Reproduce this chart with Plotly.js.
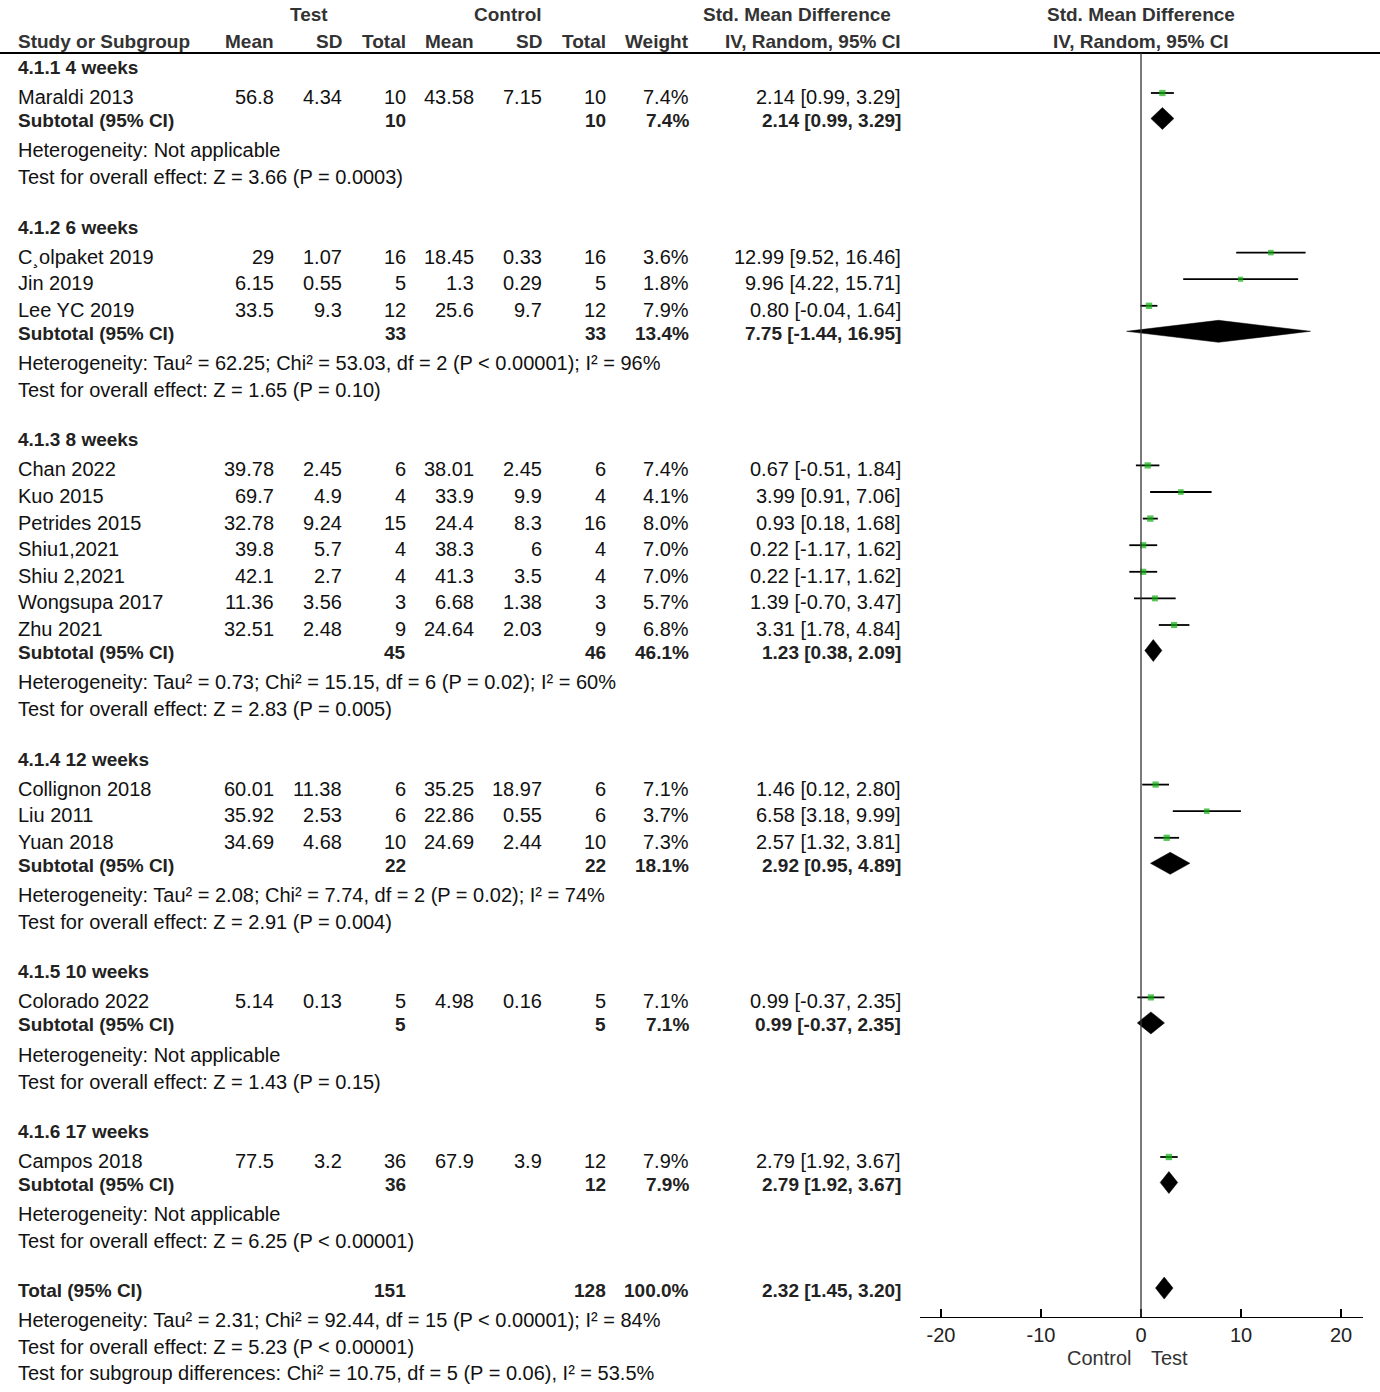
<!DOCTYPE html>
<html>
<head>
<meta charset="utf-8">
<script src="https://cdn.plot.ly/plotly-3.0.1.min.js"></script>
<style>
  html, body { margin: 0; padding: 0; background: #fff; }
  #chart { width: 1380px; height: 1392px; }
</style>
</head>
<body>
<div id="chart"></div>
<script>
// ---------------- DATA ----------------
const groupNames = ['4.1.1 4 weeks', '4.1.2 6 weeks', '4.1.3 8 weeks', '4.1.4 12 weeks', '4.1.5 10 weeks', '4.1.6 17 weeks'];

const studyNames = ['Maraldi 2013', 'C\u00B8olpaket 2019', 'Jin 2019', 'Lee YC 2019', 'Chan 2022', 'Kuo 2015',
  'Petrides 2015', 'Shiu1,2021', 'Shiu 2,2021', 'Wongsupa 2017', 'Zhu 2021', 'Collignon 2018', 'Liu 2011',
  'Yuan 2018', 'Colorado 2022', 'Campos 2018'];
const studyGroup = [0, 1, 1, 1, 2, 2, 2, 2, 2, 2, 2, 3, 3, 3, 4, 5];
const testMean = [56.8, 29, 6.15, 33.5, 39.78, 69.7, 32.78, 39.8, 42.1, 11.36, 32.51, 60.01, 35.92, 34.69, 5.14, 77.5];
const testSD = [4.34, 1.07, 0.55, 9.3, 2.45, 4.9, 9.24, 5.7, 2.7, 3.56, 2.48, 11.38, 2.53, 4.68, 0.13, 3.2];
const testN = [10, 16, 5, 12, 6, 4, 15, 4, 4, 3, 9, 6, 6, 10, 5, 36];
const ctrlMean = [43.58, 18.45, 1.3, 25.6, 38.01, 33.9, 24.4, 38.3, 41.3, 6.68, 24.64, 35.25, 22.86, 24.69, 4.98, 67.9];
const ctrlSD = [7.15, 0.33, 0.29, 9.7, 2.45, 9.9, 8.3, 6, 3.5, 1.38, 2.03, 18.97, 0.55, 2.44, 0.16, 3.9];
const ctrlN = [10, 16, 5, 12, 6, 4, 16, 4, 4, 3, 9, 6, 6, 10, 5, 12];
const studyWeight = [7.4, 3.6, 1.8, 7.9, 7.4, 4.1, 8.0, 7.0, 7.0, 5.7, 6.8, 7.1, 3.7, 7.3, 7.1, 7.9];
const studySMD = [2.14, 12.99, 9.96, 0.80, 0.67, 3.99, 0.93, 0.22, 0.22, 1.39, 3.31, 1.46, 6.58, 2.57, 0.99, 2.79];
const studyLo = [0.99, 9.52, 4.22, -0.04, -0.51, 0.91, 0.18, -1.17, -1.17, -0.70, 1.78, 0.12, 3.18, 1.32, -0.37, 1.92];
const studyHi = [3.29, 16.46, 15.71, 1.64, 1.84, 7.06, 1.68, 1.62, 1.62, 3.47, 4.84, 2.80, 9.99, 3.81, 2.35, 3.67];

const subTestN = [10, 33, 45, 22, 5, 36];
const subCtrlN = [10, 33, 46, 22, 5, 12];
const subWeight = [7.4, 13.4, 46.1, 18.1, 7.1, 7.9];
const subSMD = [2.14, 7.75, 1.23, 2.92, 0.99, 2.79];
const subLo = [0.99, -1.44, 0.38, 0.95, -0.37, 1.92];
const subHi = [3.29, 16.95, 2.09, 4.89, 2.35, 3.67];
const hetTexts = [
  'Heterogeneity: Not applicable',
  'Heterogeneity: Tau\u00B2 = 62.25; Chi\u00B2 = 53.03, df = 2 (P &lt; 0.00001); I\u00B2 = 96%',
  'Heterogeneity: Tau\u00B2 = 0.73; Chi\u00B2 = 15.15, df = 6 (P = 0.02); I\u00B2 = 60%',
  'Heterogeneity: Tau\u00B2 = 2.08; Chi\u00B2 = 7.74, df = 2 (P = 0.02); I\u00B2 = 74%',
  'Heterogeneity: Not applicable',
  'Heterogeneity: Not applicable'
];
const effectTexts = [
  'Test for overall effect: Z = 3.66 (P = 0.0003)',
  'Test for overall effect: Z = 1.65 (P = 0.10)',
  'Test for overall effect: Z = 2.83 (P = 0.005)',
  'Test for overall effect: Z = 2.91 (P = 0.004)',
  'Test for overall effect: Z = 1.43 (P = 0.15)',
  'Test for overall effect: Z = 6.25 (P &lt; 0.00001)'
];

const totalTestN = 151;
const totalCtrlN = 128;
const totalWeight = 100.0;
const totalSMD = 2.32;
const totalLo = 1.45;
const totalHi = 3.20;
const totalTexts = [
  'Heterogeneity: Tau\u00B2 = 2.31; Chi\u00B2 = 92.44, df = 15 (P &lt; 0.00001); I\u00B2 = 84%',
  'Test for overall effect: Z = 5.23 (P &lt; 0.00001)',
  'Test for subgroup differences: Chi\u00B2 = 10.75, df = 5 (P = 0.06), I\u00B2 = 53.5%'
];

const tickVals = [-20, -10, 0, 10, 20];
const tickLabels = ['-20', '-10', '0', '10', '20'];
const favourLeft = 'Control';
const favourRight = 'Test';

// ---------------- LAYOUT GEOMETRY ----------------
const W = 1380, H = 1392;
const FONT = 'Liberation Sans, Arial, sans-serif';
const REG = 20, BOLD = 19;
const colRight = { tm: 275, tsd: 343, tn: 407, cm: 475, csd: 543, cn: 607, w: 690, ci: 902 };
const labelX = 17;
const headerLineY = 53;
const axisY = 1317;

// row positions (pixels from top)
const hdrY = [], studyY = [], subY = [], hetY = [], effY = [];
let cur = 67.5;
for (let g = 0; g < groupNames.length; g++) {
  hdrY.push(cur);
  cur += 29.5;
  let first = true;
  studyGroup.forEach((sg, s) => {
    if (sg !== g) return;
    if (!first) cur += 26.6;
    first = false;
    studyY[s] = cur;
  });
  cur += 23.5; subY.push(cur);
  cur += 29.8; hetY.push(cur);
  cur += 26.8; effY.push(cur);
  cur += 50;
}
const totalY = cur - 1;
const totalTextY = [totalY + 30, totalY + 56.8, totalY + 83.3];

// ---------------- ANNOTATIONS ----------------
const ann = [];
function txt(px, y, text, anchor, bold, color) {
  ann.push({
    xref: 'paper', yref: 'y', x: px / W, y: y, text: text,
    xanchor: anchor, yanchor: 'middle', showarrow: false,
    borderpad: 0,
    font: { family: FONT, size: bold ? BOLD : REG, color: color || (bold ? '#222' : '#111'),
            weight: bold ? 'bold' : 'normal' }
  });
}
const ciStr = (e, l, h) => e.toFixed(2) + ' [' + l.toFixed(2) + ', ' + h.toFixed(2) + ']';
const wStr = w => w.toFixed(1) + '%';

// column headers
const HC = '#333';
txt(309, 14, 'Test', 'center', true, HC);
txt(508, 14, 'Control', 'center', true, HC);
txt(797, 14, 'Std. Mean Difference', 'center', true, HC);
txt(1141, 14, 'Std. Mean Difference', 'center', true, HC);
txt(labelX, 41, 'Study or Subgroup', 'left', true, HC);
txt(colRight.tm, 41, 'Mean', 'right', true, HC);
txt(colRight.tsd, 41, 'SD', 'right', true, HC);
txt(colRight.tn, 41, 'Total', 'right', true, HC);
txt(colRight.cm, 41, 'Mean', 'right', true, HC);
txt(colRight.csd, 41, 'SD', 'right', true, HC);
txt(colRight.cn, 41, 'Total', 'right', true, HC);
txt(colRight.w, 41, 'Weight', 'right', true, HC);
txt(colRight.ci, 41, 'IV, Random, 95% CI', 'right', true, HC);
txt(1141, 41, 'IV, Random, 95% CI', 'center', true, HC);

for (let g = 0; g < groupNames.length; g++) {
  txt(labelX, hdrY[g], groupNames[g], 'left', true);
  txt(labelX, subY[g], 'Subtotal (95% CI)', 'left', true);
  txt(colRight.tn, subY[g], String(subTestN[g]), 'right', true);
  txt(colRight.cn, subY[g], String(subCtrlN[g]), 'right', true);
  txt(colRight.w, subY[g], wStr(subWeight[g]), 'right', true);
  txt(colRight.ci, subY[g], ciStr(subSMD[g], subLo[g], subHi[g]), 'right', true);
  txt(labelX, hetY[g], hetTexts[g], 'left', false);
  txt(labelX, effY[g], effectTexts[g], 'left', false);
}
studyNames.forEach((n, s) => {
  const y = studyY[s];
  txt(labelX, y, n, 'left', false);
  txt(colRight.tm, y, String(testMean[s]), 'right', false);
  txt(colRight.tsd, y, String(testSD[s]), 'right', false);
  txt(colRight.tn, y, String(testN[s]), 'right', false);
  txt(colRight.cm, y, String(ctrlMean[s]), 'right', false);
  txt(colRight.csd, y, String(ctrlSD[s]), 'right', false);
  txt(colRight.cn, y, String(ctrlN[s]), 'right', false);
  txt(colRight.w, y, wStr(studyWeight[s]), 'right', false);
  txt(colRight.ci, y, ciStr(studySMD[s], studyLo[s], studyHi[s]), 'right', false);
});
txt(labelX, totalY, 'Total (95% CI)', 'left', true);
txt(colRight.tn, totalY, String(totalTestN), 'right', true);
txt(colRight.cn, totalY, String(totalCtrlN), 'right', true);
txt(colRight.w, totalY, wStr(totalWeight), 'right', true);
txt(colRight.ci, totalY, ciStr(totalSMD, totalLo, totalHi), 'right', true);
totalTexts.forEach((t, i) => txt(labelX, totalTextY[i], t, 'left', false));

// favours labels (in data x units)
ann.push({ xref: 'x', yref: 'y', x: -0.9, y: 1358, text: favourLeft, xanchor: 'right', yanchor: 'middle',
  showarrow: false, borderpad: 0, font: { family: FONT, size: REG, color: '#333' } });
ann.push({ xref: 'x', yref: 'y', x: 0.9, y: 1358, text: favourRight, xanchor: 'left', yanchor: 'middle',
  showarrow: false, borderpad: 0, font: { family: FONT, size: REG, color: '#333' } });

// ---------------- TRACES ----------------
const MARK_OFF = -4, DIA_OFF = -2, DIA_H = 11;
const traces = [];
const ciX = [], ciY = [];
studySMD.forEach((e, s) => {
  ciX.push(studyLo[s], studyHi[s], null);
  const y = studyY[s] + MARK_OFF;
  ciY.push(y, y, null);
});
traces.push({ type: 'scatter', mode: 'lines', x: ciX, y: ciY, line: { color: '#000', width: 1.8 },
  hoverinfo: 'skip', showlegend: false });
traces.push({ type: 'scatter', mode: 'markers', x: studySMD, y: studyY.map(v => v + MARK_OFF),
  marker: { symbol: 'square', color: '#0fb00f', size: studyWeight.map(w => 4.8 + 0.2 * w), line: { width: 0 } },
  hoverinfo: 'skip', showlegend: false });

function diamond(e, l, h, yc) {
  const y = yc + DIA_OFF;
  traces.push({ type: 'scatter', mode: 'lines', x: [l, e, h, e, l], y: [y, y - DIA_H, y, y + DIA_H, y],
    fill: 'toself', fillcolor: '#000', line: { color: '#000', width: 0.5 }, hoverinfo: 'skip', showlegend: false });
}
for (let g = 0; g < groupNames.length; g++) diamond(subSMD[g], subLo[g], subHi[g], subY[g]);
diamond(totalSMD, totalLo, totalHi, totalY);

// ---------------- LAYOUT ----------------
const layout = {
  width: W, height: H,
  margin: { l: 0, r: 0, t: 0, b: 0 },
  paper_bgcolor: '#fff', plot_bgcolor: 'rgba(0,0,0,0)',
  showlegend: false,
  xaxis: {
    domain: [920 / W, 1363 / W], range: [-22.1, 22.2],
    anchor: 'free', position: 1 - axisY / H,
    showline: true, linecolor: '#000', linewidth: 1.4,
    ticks: 'inside', ticklen: 8, tickwidth: 1.4, tickcolor: '#000',
    tickvals: tickVals, ticktext: tickLabels,
    tickfont: { family: FONT, size: REG, color: '#222' },
    showgrid: false, zeroline: false, fixedrange: true
  },
  yaxis: {
    domain: [0, 1], range: [H, 0], visible: false, anchor: 'free', position: 0, fixedrange: true
  },
  shapes: [
    { type: 'line', xref: 'paper', yref: 'y', x0: 0, x1: 1, y0: headerLineY, y1: headerLineY,
      line: { color: '#000', width: 2 } },
    { type: 'line', xref: 'x', yref: 'y', x0: 0, x1: 0, y0: headerLineY, y1: axisY,
      line: { color: '#333', width: 1.3 } }
  ],
  annotations: ann
};

Plotly.newPlot('chart', traces, layout, { displayModeBar: false, staticPlot: true });
</script>
</body>
</html>
